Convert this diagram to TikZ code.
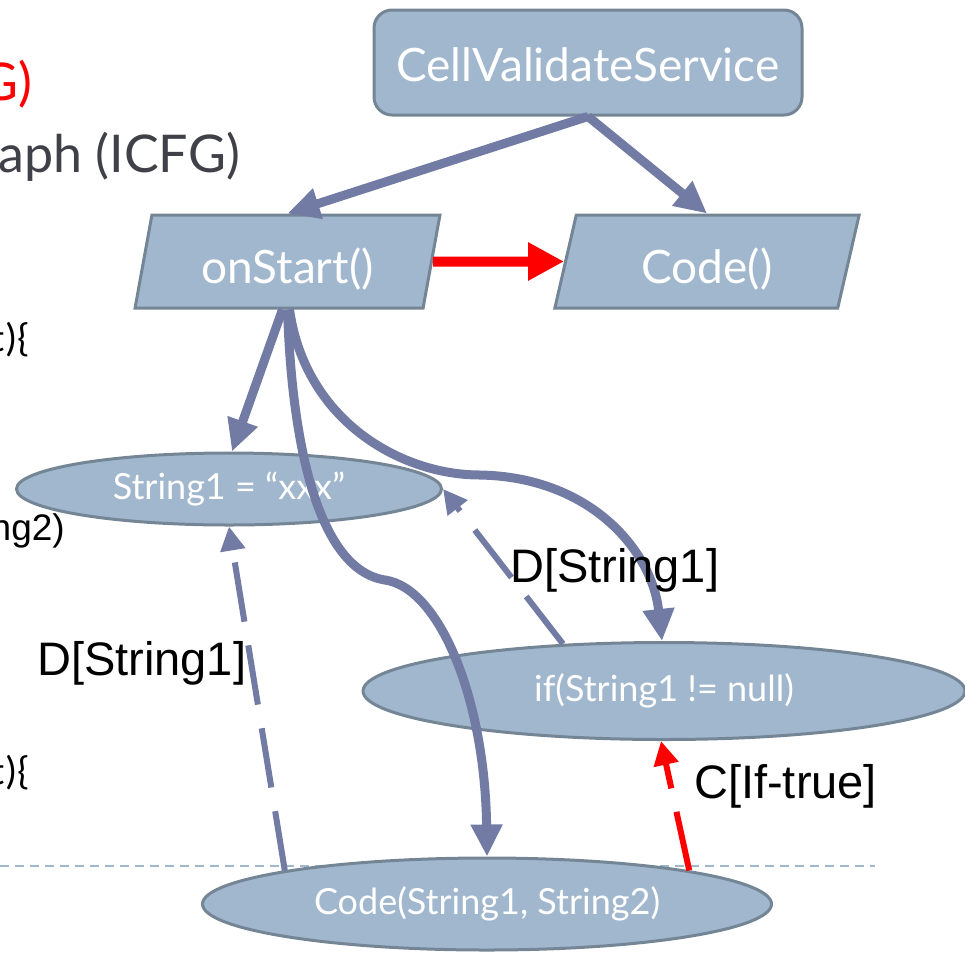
\documentclass[tikz,border=0pt]{standalone}
\usepackage{fontspec}
\setmainfont{Liberation Sans}
\newfontfamily\gill{Lato}
\newfontfamily\codefont{Carlito}
\usetikzlibrary{arrows.meta,shapes.geometric}

\definecolor{boxfill}{RGB}{161,183,205}
\definecolor{boxline}{RGB}{116,134,150}
\definecolor{flowc}{RGB}{113,123,163}
\definecolor{rulec}{RGB}{160,184,204}
\definecolor{titlec}{RGB}{64,64,73}

\begin{document}
\begin{tikzpicture}[x=1pt,y=-1pt,
  box/.style={draw=boxline, line width=3pt, fill=boxfill, text=white,
    font=\gill\fontsize{46}{50}\selectfont},
  roundbox/.style={box, rounded corners=18pt, minimum width=428pt,
    minimum height=105pt, inner sep=0pt, text height=37pt, text depth=0pt},
  pgram/.style={box, trapezium, trapezium left angle=76,
    trapezium right angle=104, trapezium stretches=true,
    minimum width=305pt, minimum height=93pt, inner sep=0pt,
    text height=43pt, text depth=0pt},
  oval/.style={box, ellipse, inner sep=0pt,
    font=\gill\fontsize{36}{40}\selectfont},
  flow/.style={draw=flowc, line width=9pt,
    -{Triangle[length=32pt,width=30pt]}},
  dflow/.style={draw=flowc, line width=6pt, dash pattern=on 60pt off 24pt,
    -{Triangle[length=24pt,width=24pt]}},
  cflow/.style={draw=red, line width=6pt, dash pattern=on 60pt off 24pt,
    -{Triangle[length=24pt,width=24pt]}},
  callflow/.style={draw=red, line width=10pt,
    -{Triangle[length=36pt,width=36pt]}},
  edgelabel/.style={font=\fontsize{47}{50}\selectfont, inner sep=0pt},
  codefrag/.style={font=\codefont\fontsize{40}{44}\selectfont, inner sep=0pt},
  title/.style={font=\gill\fontsize{52}{56}\selectfont, inner sep=0pt},
]
\useasboundingbox (0,0) rectangle (965,953);

% slide text running in from the left
\node[title, text=red, anchor=base east] (ttlA) at (33,100) {G)};
\node[title, text=titlec, anchor=base east] (ttlB) at (240,172) {raph (ICFG)};
\node[codefrag, anchor=base east] (fragA) at (30,351) {t)\{};
\node[font=\fontsize{37}{40}\selectfont, inner sep=0pt, anchor=base east] (fragB) at (65,540) {ng2)};
\node[codefrag, anchor=base east] (fragC) at (30,784) {t)\{};

% separator rule behind the bottom call node
\coordinate (ruleL) at (0,866);
\coordinate (ruleR) at (875,866);
\draw[rulec, line width=2pt, dash pattern=on 9pt off 6pt] (ruleL) -- (ruleR);

% graph nodes
\node[roundbox] (cvs) at (588,62.5) {CellValidateService};
\node[pgram] (on) at (287.5,261.5) {onStart()};
\node[pgram] (cd) at (707,261.5) {Code()};
\node[oval, minimum width=425pt, minimum height=72pt] (s1) at (229,489) {String1 = “xxx”};
\node[oval, minimum width=602pt, minimum height=97pt] (iff) at (664,691) {if(String1 != null)};
\node[oval, minimum width=569pt, minimum height=92pt] (cs) at (487,904) {Code(String1, String2)};

% control-flow edges
\draw[flow] (cvs.south) -- (on.north);
\draw[flow] (cvs.south) -- (cd.north);
\draw[callflow] (on.east) -- (cd.west);
\draw[flow] ([xshift=-5pt]on.south) -- ([xshift=3pt]s1.north);
\draw[flow] (on.south) .. controls (292,450) and (320,570) .. (385,580)
  .. controls (440,588) and (485,700) .. (cs.north);
\draw[flow] ([xshift=2pt]on.south) .. controls (305,420) and (400,475) .. (480,475)
  .. controls (590,477) and (652,550) .. ([xshift=-2pt]iff.north);

% data and control dependence edges
\draw[dflow] (iff.155) -- (s1.east);
\draw[dflow] (cs.north west) -- (s1.south);
\draw[cflow] (cs.north east) -- ([xshift=-3pt]iff.south);

% edge labels
\node[edgelabel, anchor=base west] (lblA) at (37,675) {D[String1]};
\node[edgelabel, anchor=base west] (lblB) at (510,582) {D[String1]};
\node[edgelabel, anchor=base west] (lblC) at (694,798) {C[If-true]};
\end{tikzpicture}
\end{document}
